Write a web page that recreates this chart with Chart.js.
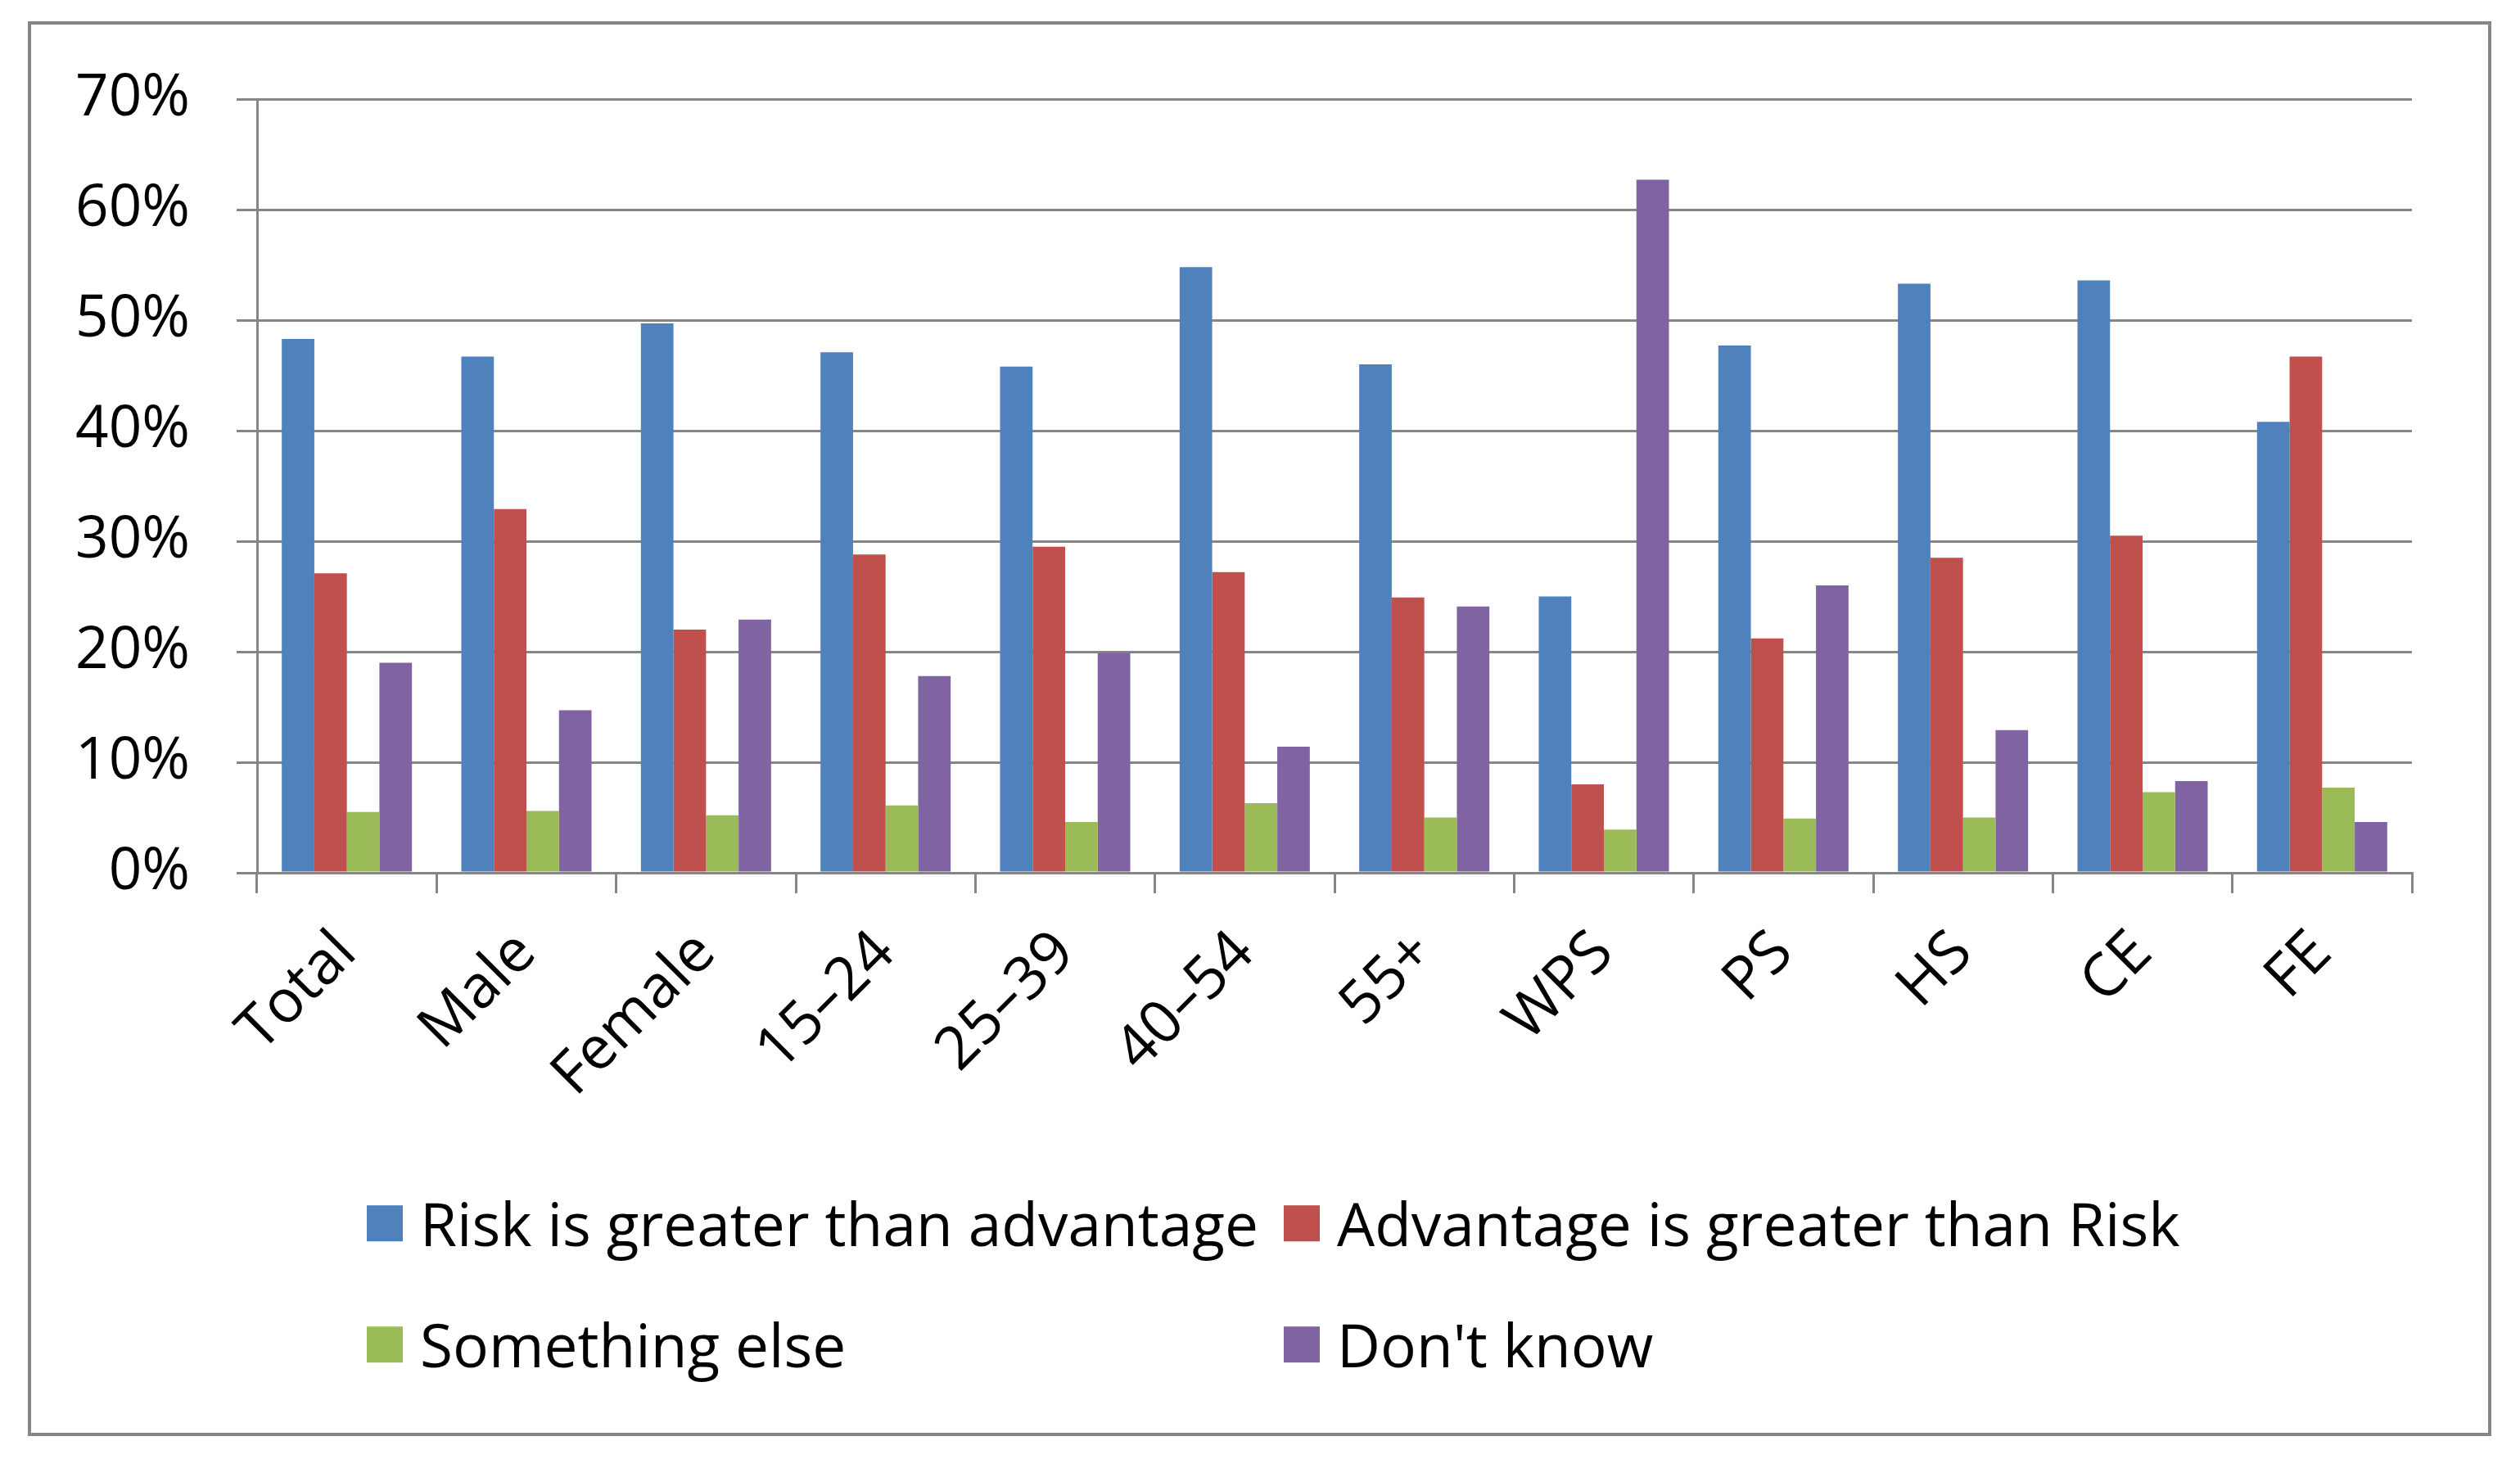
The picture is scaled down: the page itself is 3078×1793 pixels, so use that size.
<!DOCTYPE html>
<html>
<head>
<meta charset="utf-8">
<script src="https://cdn.jsdelivr.net/npm/chart.js@4.4.0/dist/chart.umd.min.js"></script>
<style>
  html, body { margin: 0; padding: 0; background: #fff; }
  body { width: 3078px; height: 1793px; position: relative; overflow: hidden; }
  #frame {
    position: absolute; left: 34px; top: 26px; width: 3009px; height: 1728px;
    border: 4px solid #868686; box-sizing: border-box;
  }
  #wrap { position: absolute; left: 0; top: 0; width: 3078px; height: 1793px; }
  .item {
    position: absolute; display: flex; align-items: center;
    font-family: "Open Sans", sans-serif; font-size: 73px; color: #000;
    white-space: nowrap; line-height: 1.2;
  }
  .item .box { width: 44px; height: 44px; margin-right: 21px; flex: none; }
</style>
</head>
<body>
<div id="frame"></div>
<div id="wrap"><canvas id="chart"></canvas></div>
<div id="legend"></div>
<script>
const categories = ["Total", "Male", "Female", "15–24", "25–39", "40–54", "55+", "WPS", "PS", "HS", "CE", "FE"];
const riskGreater = [48.3, 46.7, 49.7, 47.1, 45.8, 54.8, 46.0, 25.0, 47.7, 53.3, 53.6, 40.8];
const advantageGreater = [27.1, 32.9, 22.0, 28.8, 29.5, 27.2, 24.9, 8.0, 21.2, 28.5, 30.5, 46.7];
const somethingElse = [5.5, 5.6, 5.2, 6.1, 4.6, 6.3, 5.0, 3.9, 4.9, 5.0, 7.3, 7.7];
const dontKnow = [19.0, 14.7, 22.9, 17.8, 19.9, 11.4, 24.1, 62.7, 26.0, 12.9, 8.3, 4.6];
const seriesNames = ["Risk is greater than advantage", "Advantage is greater than Risk", "Something else", "Don't know"];
const seriesColors = ["#4F81BD", "#C0504D", "#9BBB59", "#8064A2"];
const yTicks = [0, 10, 20, 30, 40, 50, 60, 70];

const gridGrey = "#868686";

const ctx = document.getElementById("chart").getContext("2d");

const chart = new Chart(ctx, {
  type: "bar",
  data: {
    labels: categories,
    datasets: [riskGreater, advantageGreater, somethingElse, dontKnow].map((values, i) => ({
      label: seriesNames[i],
      data: values,
      backgroundColor: seriesColors[i],
      borderWidth: 0,
      barPercentage: 1,
      categoryPercentage: 0.725
    }))
  },
  options: {
    responsive: true,
    maintainAspectRatio: false,
    animation: false,
    layout: {
      padding: { left: 0, top: 121, right: 132, bottom: 427 }
    },
    plugins: {
      legend: { display: false },
      tooltip: { enabled: false }
    },
    scales: {
      x: {
        grid: {
          offset: true,
          drawOnChartArea: false,
          drawTicks: true,
          tickLength: 25,
          color: gridGrey,
          lineWidth: 3
        },
        border: { color: gridGrey, width: 3 },
        ticks: {
          font: { family: "'Open Sans', sans-serif", size: 73 },
          color: "#000",
          minRotation: 45,
          maxRotation: 45,
          padding: 30
        },
        afterFit: (scale) => { scale.height = 300; }
      },
      y: {
        min: yTicks[0],
        max: yTicks[yTicks.length - 1],
        afterBuildTicks: (scale) => { scale.ticks = yTicks.map(v => ({ value: v })); },
        ticks: {
          font: { family: "'Open Sans', sans-serif", size: 71 },
          color: "#000",
          padding: 57,
          callback: (v) => v + "%"
        },
        grid: {
          color: gridGrey,
          lineWidth: 3,
          tickLength: 25
        },
        border: { display: true, color: gridGrey, width: 3 },
        afterFit: (scale) => { scale.width = 314; }
      }
    }
  }
});

// legend laid out in two columns like the original
const legendSlots = [
  { left: 448, top: 1494 },
  { left: 1568, top: 1494 },
  { left: 448, top: 1642 },
  { left: 1568, top: 1642 }
];
const legendEl = document.getElementById("legend");
chart.data.datasets.forEach((ds, i) => {
  const item = document.createElement("div");
  item.className = "item";
  item.style.left = legendSlots[i].left + "px";
  item.style.top = legendSlots[i].top + "px";
  item.style.transform = "translateY(-50%)";
  const box = document.createElement("span");
  box.className = "box";
  box.style.background = ds.backgroundColor;
  const text = document.createElement("span");
  text.textContent = ds.label;
  item.appendChild(box);
  item.appendChild(text);
  legendEl.appendChild(item);
});
</script>
</body>
</html>
